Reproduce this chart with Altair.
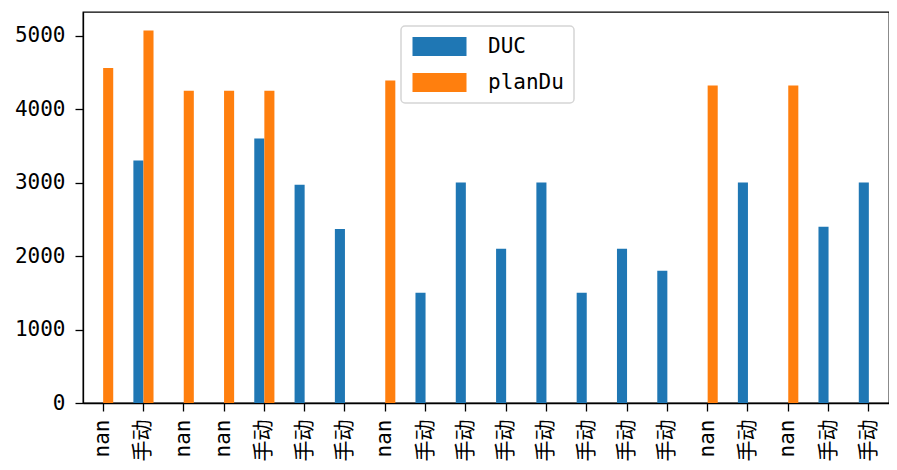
import json
import altair as alt
import pandas as pd

labels = ["nan", "手动", "nan", "nan", "手动", "手动", "手动", "nan", "手动", "手动",
          "手动", "手动", "手动", "手动", "手动", "nan", "手动", "nan", "手动", "手动"]
duc = [None, 3300, None, None, 3600, 2970, 2370, None, 1500, 3000,
       2100, 3000, 1500, 2100, 1800, None, 3000, None, 2400, 3000]
plandu = [4560, 5070, 4250, 4250, 4250, None, None, 4390, None, None,
          None, None, None, None, None, 4320, None, 4320, None, None]
series = ["DUC", "planDu"]
colors = ["#1f77b4", "#ff7f0e"]
y_ticks = [0, 1000, 2000, 3000, 4000, 5000]

rows = []
for i, (d, p) in enumerate(zip(duc, plandu)):
    rows.append({"idx": i, "series": "DUC", "value": d})
    rows.append({"idx": i, "series": "planDu", "value": p})
df = pd.DataFrame(rows)

FONT = "DejaVu Sans Mono, Noto Sans CJK SC"
label_expr = json.dumps(labels, ensure_ascii=False) + "[datum.value]"

chart = alt.Chart(df).mark_bar().encode(
    x=alt.X("idx:O",
            scale=alt.Scale(paddingInner=0.5, paddingOuter=0.25),
            axis=alt.Axis(title=None, labelExpr=label_expr, labelAngle=270,
                          labelAlign="right", labelBaseline="middle",
                          labelPadding=8, tickSize=8)),
    xOffset=alt.XOffset("series:N", scale=alt.Scale(domain=series)),
    y=alt.Y("value:Q",
            scale=alt.Scale(domain=[0, 5322], nice=False),
            axis=alt.Axis(title=None, values=y_ticks, grid=False, format="d",
                          labelPadding=10, tickSize=8)),
    color=alt.Color("series:N",
                    scale=alt.Scale(domain=series, range=colors),
                    legend=alt.Legend(title=None, orient="none",
                                      legendX=318, legendY=14)),
).properties(
    width=806, height=391,
    autosize=alt.AutoSizeParams(type="none"),
    padding={"left": 75, "top": 4, "right": 0, "bottom": 58},
).configure_view(
    stroke="black", strokeWidth=1.3
).configure_axis(
    labelFont=FONT, labelFontSize=21, labelColor="black",
    domainColor="black", domainWidth=1.3,
    tickColor="black", tickWidth=1.3,
).configure_legend(
    labelFont=FONT, labelFontSize=21, labelColor="black",
    symbolType="M-2.7,-0.95H2.7V0.95H-2.7Z", symbolSize=400,
    symbolStrokeWidth=0, symbolOffset=18, labelOffset=38,
    rowPadding=14, padding=10,
    strokeColor="#d5d5d5", strokeWidth=1.5, fillColor="white", cornerRadius=4,
)

chart.save("out.html", embed_options={"renderer": "svg", "actions": False})
